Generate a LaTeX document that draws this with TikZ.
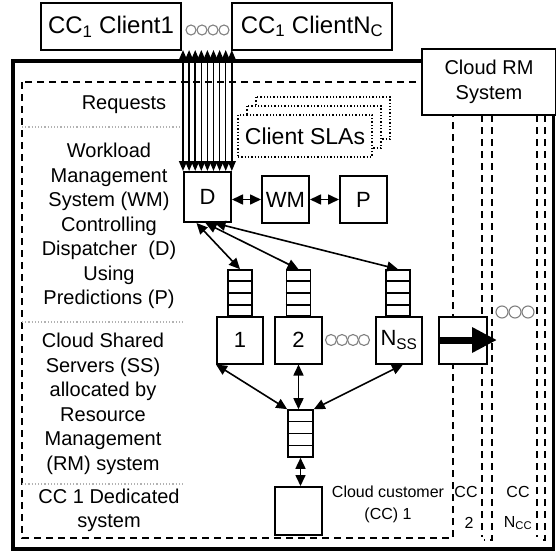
\documentclass[tikz,border=0pt]{standalone}
\usepackage{fontspec}
\setmainfont{Liberation Sans}
\usetikzlibrary{calc,arrows.meta}

\tikzset{
  box/.style={draw, line width=2pt, fill=white, inner sep=0pt, minimum width=47pt, minimum height=47pt, font=\fontsize{22}{24}\selectfont},
  queue/.style={draw, line width=1.6pt, fill=white, inner sep=0pt, minimum width=24pt, minimum height=46pt},
  lbl/.style={align=center, inner sep=0pt, font=\fontsize{20}{24.5}\selectfont},
  small/.style={align=center, inner sep=0pt, font=\fontsize{16}{22}\selectfont},
  ccline/.style={dash pattern=on 7pt off 5pt, line width=1.8pt},
  sep/.style={gray!60, dotted, line width=1.2pt},
  sla/.style={draw, dotted, line width=1.3pt, fill=white},
  link/.style={{Triangle[length=11pt,width=10pt]}-{Triangle[length=11pt,width=10pt]}, line width=1.6pt},
  bundle/.style={{Triangle[length=10pt,width=8pt]}-{Triangle[length=10pt,width=8pt]}, line width=1.5pt},
  dots/.style={draw=gray, line width=1.1pt},
}

\begin{document}
\begin{tikzpicture}[x=1pt,y=-1pt]
    \useasboundingbox (0,0) rectangle (556,551);

    % Outer frame and the CC 1 region
    \draw[line width=3.5pt] (13,61) rectangle (553.5,549);
    \draw[ccline] (22,82) rectangle (453,538);

    % Columns of the other cloud customers
    \draw[ccline] (482,115) -- (482,537);
    \draw[ccline] (492,115) -- (492,540) -- (484,540);
    \draw[ccline] (537,115) -- (537,537);
    \draw[ccline] (545,115) -- (545,540) -- (539,540);

    \node[draw, line width=2.5pt, fill=white, minimum width=134pt, minimum height=66pt,
          align=center, font=\fontsize{20}{25}\selectfont] (rm) at (489,82) {Cloud RM\\System};

    % Clients
    \node[box, minimum width=140pt, font=\fontsize{24}{28}\selectfont] (cl1) at (111,26.5) {CC\textsubscript{1} Client1};
    \node[box, minimum width=160pt, font=\fontsize{24}{28}\selectfont] (clN) at (312,26.5) {CC\textsubscript{1} ClientN\textsubscript{C}};
    \foreach \cx in {191,202,213,224}
        \draw[dots] (\cx,30) circle[radius=5pt];

    % Left column texts and separators
    \node[lbl] (req) at (124,105) {Requests};
    \node[lbl] (wmtxt) at (109,226) {Workload\\Management\\System (WM)\\Controlling\\Dispatcher\ \ (D)\\Using\\Predictions (P)};
    \node[lbl] (sstxt) at (103,404) {Cloud Shared\\Servers (SS)\\allocated by\\Resource\\Management\\(RM) system};
    \node[lbl] (dedtxt) at (109,510.5) {CC 1 Dedicated\\system};
    \draw[sep] (22,127) -- (183,127);
    \draw[sep] (22,322) -- (183,322);
    \draw[sep] (22,484) -- (183,484);

    % Client SLAs (stacked)
    \draw[sla] (256,97) rectangle (390,139);
    \draw[sla] (247,106) rectangle (381,148);
    \node[sla, minimum width=134pt, minimum height=42pt, inner sep=0pt, font=\fontsize{23}{26}\selectfont] (sla) at (305,136) {Client SLAs};

    % Workload management
    \node[box, minimum height=50pt] (D) at (207.5,197) {D};
    \node[box] (WM) at (285.5,199.5) {WM};
    \node[box] (P) at (363.5,199.5) {P};
    \draw[link] (WM.west -| D.east) -- (WM.west);
    \draw[link] (WM.east) -- (P.west);

    % Request bundle from the clients to D
    \foreach \i in {0,...,8} {
        \coordinate (b\i) at ({183+6.1*\i},50);
        \draw[bundle] (b\i) -- (b\i |- D.north);
    }

    % Shared servers with their queues
    \node[queue] (q1) at (240,293) {};
    \node[queue] (q2) at (298.5,293) {};
    \node[queue] (qN) at (398,293) {};
    \node[box, minimum width=46pt] (s1) at (240,340) {1};
    \node[box] (s2) at (298.5,340) {2};
    \node[box, minimum width=46pt] (sN) at (399,340) {N\textsubscript{SS}};
    \foreach \cx in {331,342,353,364}
        \draw[dots] (\cx,340) circle[radius=5.5pt];

    % Moving capacity to other customers
    \node[box, minimum width=48pt] (out) at (463,340) {};
    \coordinate (outtip) at (497,340);
    \draw[line width=7pt, -{Triangle[length=25pt,width=24pt]}] (out.west) -- (outtip);
    \foreach \cx in {502,515,528}
        \draw[dots] (\cx,312) circle[radius=6pt];

    % Dedicated system
    \node[queue, minimum width=25pt, minimum height=47pt] (qB) at (300.5,433.5) {};
    \node[box, minimum height=48pt] (B) at (298.5,511) {};

    % Queue cells
    \foreach \q in {q1,q2,qN,qB}
        \foreach \f in {0.25,0.5,0.75}
            \draw[line width=1.6pt] ($(\q.north west)!\f!(\q.south west)$) -- ($(\q.north east)!\f!(\q.south east)$);

    % Links
    \draw[link] ([xshift=-11pt]D.south) -- (q1.north);
    \draw[link] ([xshift=-2pt]D.south) -- (q2.north);
    \draw[link] ([xshift=7pt]D.south) -- (qN.north);
    \draw[link] (s1.south west) -- (qB.north west);
    \draw[link] (s2.south) -- (s2.south |- qB.north);
    \draw[link] ([xshift=4pt]sN.south) -- (qB.north east);
    \draw[link] (qB.south) -- (qB.south |- B.north);

    % Customer labels
    \node[small] (cc1txt) at (388,504) {Cloud customer\\(CC) 1};
    \node[small] (cc2a) at (466,492) {CC};
    \node[small] (cc2b) at (469,523) {2};
    \node[small] (ccNa) at (518,492) {CC};
    \node[small] (ccNb) at (518,523) {N\textsubscript{CC}};

\end{tikzpicture}
\end{document}
